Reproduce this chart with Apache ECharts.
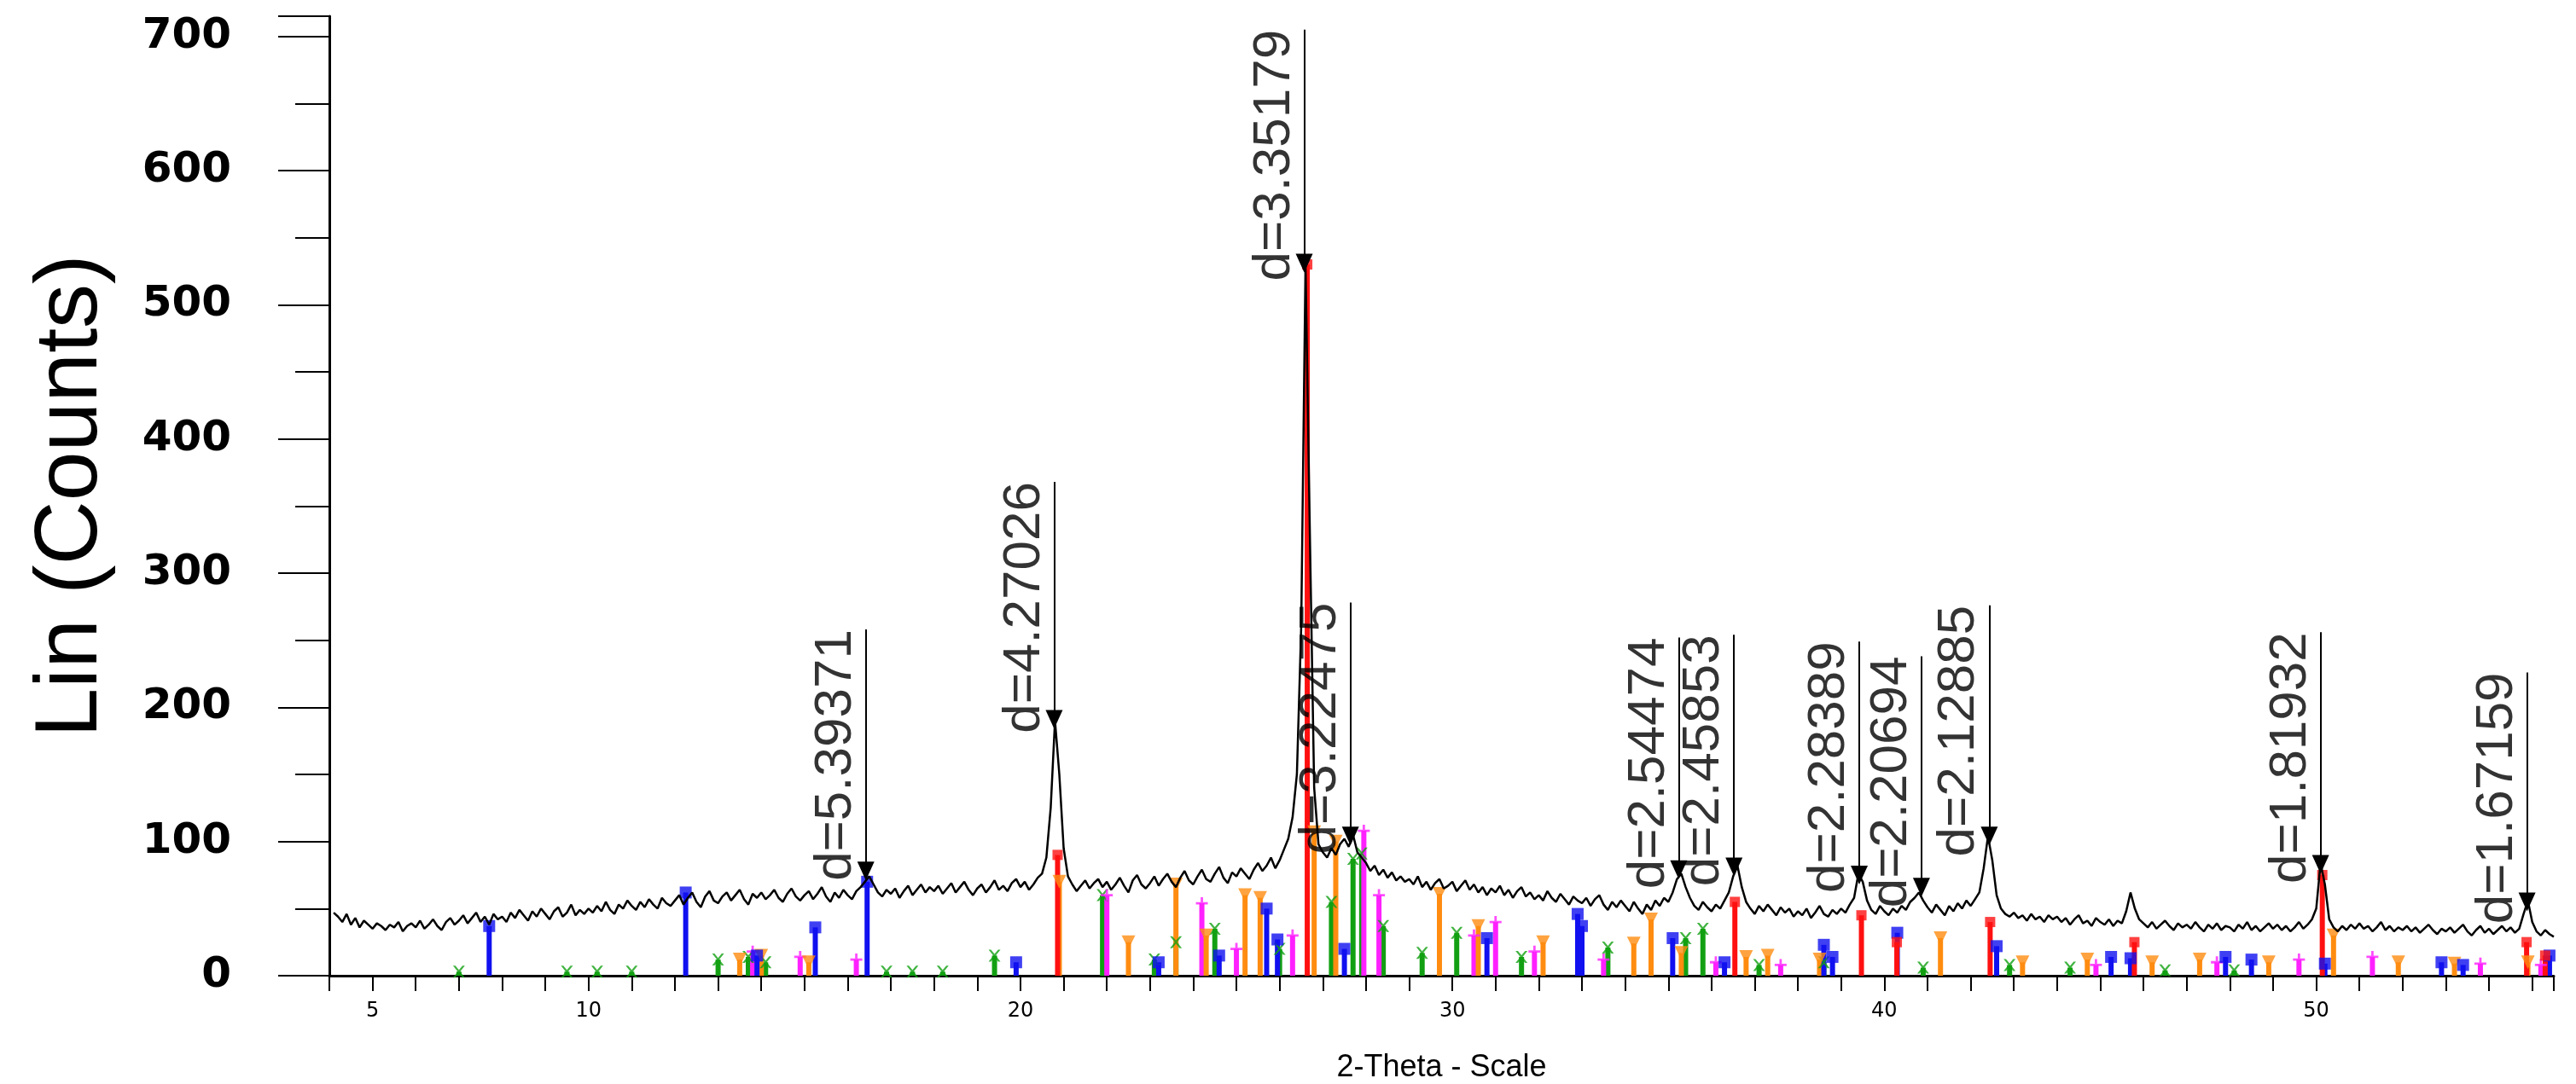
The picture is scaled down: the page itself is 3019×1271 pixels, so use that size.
<!DOCTYPE html>
<html><head><meta charset="utf-8">
<script src="https://cdn.jsdelivr.net/npm/echarts@6/dist/echarts.min.js"></script>
<style>html,body{margin:0;padding:0;background:#fff}#c{width:3019px;height:1271px}</style>
</head><body><div id="c"></div>
<script>
// Scan: 2-theta start / step and measured counts
const scanStart = 4.1, scanStep = 0.1;
const counts = [
47,44,40,46,38,43,36,41,38,
35,39,37,34,38,36,40,33,37,39,
36,41,35,38,42,37,34,40,43,38,
41,45,39,43,47,40,44,38,46,42,
44,40,47,43,49,45,41,48,44,50,
46,42,48,51,44,47,53,45,49,46,
50,47,52,48,55,49,46,53,50,56,
52,49,55,51,57,53,50,58,54,52,
56,60,53,58,62,55,51,59,63,56,
54,59,62,56,60,64,57,53,61,58,
62,57,60,64,58,55,61,65,59,56,
60,63,57,61,66,59,55,62,58,64,
60,57,63,66,70,74,68,62,59,64,
61,65,58,63,67,60,64,68,62,66,
63,67,61,65,69,62,66,70,64,60,
65,68,62,66,71,64,67,63,69,72,
66,70,64,68,73,76,88,125,190,150,
95,74,68,63,67,71,65,69,72,66,
70,64,68,73,67,62,71,75,68,65,
69,74,67,72,76,70,66,73,78,71,
68,74,79,72,70,76,81,73,69,77,
74,80,76,72,79,84,78,82,88,80,
86,94,102,118,150,260,530,330,140,98,
92,88,95,90,98,102,96,105,92,88,
84,78,82,75,79,73,77,71,74,70,
72,68,74,66,70,64,69,72,65,67,
70,63,67,71,64,68,62,66,60,65,
62,67,60,64,58,63,66,59,62,57,
60,56,63,58,55,61,57,53,59,56,
54,58,52,57,60,53,49,55,51,56,
52,48,55,50,46,53,49,56,52,58,
55,62,72,76,66,58,52,49,55,51,
48,53,50,56,62,74,82,66,55,50,
46,52,48,53,49,45,51,47,50,44,
48,45,50,43,47,52,46,44,49,46,
50,47,53,58,76,70,56,49,46,52,
48,45,50,47,52,49,55,58,62,56,
51,47,53,49,45,52,48,54,50,56,
52,57,62,80,104,86,60,50,46,44,
47,43,45,41,46,42,44,40,45,42,
44,40,43,38,42,45,39,41,37,43,
40,38,42,37,41,39,48,62,50,42,
39,36,40,35,38,41,37,34,39,36,
38,35,40,36,33,38,35,39,34,37,
36,33,38,35,40,34,37,33,36,39,
35,38,34,37,33,36,40,35,38,42,
50,84,68,42,36,33,37,34,38,35,
39,35,37,33,36,40,34,37,33,36,
34,37,33,36,32,35,38,34,31,35,
33,36,32,35,38,33,30,34,37,32,
35,31,34,37,33,36,32,35,46,56,
40,33,30,34,31,29
];
// Reference stick patterns [2theta, height]
const phaseRed = [[20.86,90],[26.64,530],[36.54,55],[39.47,45],[40.29,25],[42.45,40],[45.79,25],[50.14,75],[54.87,25],[55.3,15]];
const phaseBlue = [[7.7,37],[12.25,62],[13.9,15],[15.25,36],[16.45,70],[19.9,10],[23.2,10],[24.6,15],[25.7,50],[25.95,27],[27.5,20],[30.8,28],[32.9,46],[33.0,37],[35.1,28],[36.3,10],[38.6,23],[38.8,14],[40.3,32],[42.6,22],[45.25,14],[45.7,13],[47.9,14],[48.5,12],[50.2,9],[52.9,10],[53.4,8],[55.4,15]];
const phaseOrange = [[13.5,12],[14.0,15],[15.1,10],[20.9,70],[22.5,25],[23.6,68],[24.3,30],[25.2,60],[25.55,58],[26.8,107],[27.3,100],[29.7,61],[30.6,37],[32.1,25],[34.2,24],[34.6,42],[35.3,17],[36.8,14],[37.3,15],[38.5,12],[41.3,28],[43.2,10],[44.7,12],[46.2,10],[47.3,12],[48.9,10],[50.4,30],[51.9,10],[53.2,9],[54.9,10]];
const phaseGreen = [[7.0,3],[9.5,3],[10.2,3],[11.0,3],[13.0,12],[13.7,14],[14.1,10],[16.9,3],[17.5,3],[18.2,3],[19.4,15],[21.9,60],[23.1,12],[23.6,25],[24.5,35],[26.0,20],[27.2,55],[27.7,87],[27.9,91],[28.4,37],[29.3,17],[30.1,32],[31.6,14],[33.6,21],[35.4,28],[35.8,35],[37.1,8],[38.6,10],[40.9,6],[42.9,8],[44.3,6],[46.5,4],[48.1,4]];
const phaseMagenta = [[13.8,18],[14.9,14],[16.2,12],[22.0,60],[24.2,54],[25.0,20],[26.3,30],[27.95,108],[28.3,60],[30.5,30],[31.0,40],[31.9,18],[33.5,12],[36.1,10],[37.6,8],[44.9,8],[47.7,10],[49.6,12],[51.3,14],[53.8,9],[55.2,8]];
// Peak annotations
const peakPos = [16.42,20.78,26.57,27.64,35.24,36.52,39.42,40.86,42.43,50.10,54.88];
const peakTop = [258,368,705,278,252,254,249,238,276,256,226];
const peakTip = [78,191,531,104,79,81,75,66,104,83,55];
const peakLabel = ['d=5.39371','d=4.27026','d=3.35179','d=3.22475','d=2.54474','d=2.45853','d=2.28389','d=2.20694','d=2.12885','d=1.81932','d=1.67159'];
const xLabelsShown = [5,10,20,30,40,50];

const curve = counts.map((c,i)=>[+(scanStart+i*scanStep).toFixed(2), c]);
const xPath = 'path://M0,0L2,0L5,3.6L8,0L10,0L6,5L10,10L8,10L5,6.4L2,10L0,10L4,5Z';
const plusPath = 'path://M4,0L6,0L6,4L10,4L10,6L6,6L6,10L4,10L4,6L0,6L0,4L4,4Z';
function stick(data,color,symbol,size,rot){
  return [{type:'bar',data:data,barWidth:6,barGap:'-100%',itemStyle:{color:color},z:2,silent:true},
          {type:'scatter',data:data,symbol:symbol,symbolSize:size,symbolRotate:rot||0,itemStyle:{color:color},z:2,silent:true}];
}
const chart = echarts.init(document.getElementById('c'));
chart.setOption({
  animation:false,
  backgroundColor:'#fff',
  grid:{left:386,right:26,top:19,bottom:127,containLabel:false,outerBoundsMode:'none'},
  xAxis:{type:'value',min:4,max:55.5,interval:1,
    axisLine:{lineStyle:{color:'#000',width:3}},
    axisTick:{length:18,lineStyle:{color:'#000',width:2}},
    splitLine:{show:false},
    axisLabel:{color:'#000',fontSize:24,fontFamily:'DejaVu Sans',margin:30,
      formatter:v=>xLabelsShown.indexOf(Math.round(v*100)/100)>=0?String(v):''},
    name:'2-Theta - Scale',nameLocation:'middle',nameGap:90,
    nameTextStyle:{color:'#000',fontSize:36,fontFamily:'Liberation Sans Narrow, Liberation Sans'}},
  yAxis:{type:'value',min:0,max:715,interval:100,
    axisLine:{show:true,lineStyle:{color:'#000',width:3}},
    axisTick:{show:true,length:60,lineStyle:{color:'#000',width:2}},
    minorTick:{show:true,splitNumber:2,length:40,lineStyle:{color:'#000',width:2}},
    splitLine:{show:false},
    axisLabel:{color:'#000',fontSize:50,fontWeight:'bold',fontFamily:'DejaVu Sans',margin:115,
      formatter:v=>v%100===0?String(v):''},
    name:'Lin (Counts)',nameLocation:'middle',nameGap:250,
    nameTextStyle:{color:'#000',fontSize:104,fontFamily:'Liberation Sans Narrow, Liberation Sans'}},
  series:[
    ...stick(phaseGreen,'#12a012',xPath,14),
    ...stick(phaseMagenta,'#ff20ff',plusPath,14),
    ...stick(phaseOrange,'#ff8c10','triangle',16,180),
    ...stick(phaseBlue,'#1010f0','rect',14),
    ...stick(phaseRed,'#ff1010','rect',12),
    {type:'line',data:curve,showSymbol:false,lineStyle:{color:'#000',width:2.5},itemStyle:{color:'#000'},z:3,silent:true,
      markLine:{silent:true,symbol:['none','triangle'],symbolSize:[20,22],symbolRotate:180,
        lineStyle:{color:'#000',width:2,type:'solid'},label:{show:false},
        data:peakPos.map((p,i)=>[{coord:[p,peakTop[i]]},{coord:[p,peakTip[i]]}])}},
    {type:'scatter',symbolSize:0,z:4,silent:true,
      data:peakPos.map((p,i)=>({value:[p,peakTop[i]],name:peakLabel[i]})),
      label:{show:true,formatter:'{b}',position:[-4,0],rotate:90,align:'right',verticalAlign:'bottom',
        color:'#000',fontSize:62,fontFamily:'Liberation Sans Narrow, Liberation Sans'}}
  ]
});
</script></body></html>
